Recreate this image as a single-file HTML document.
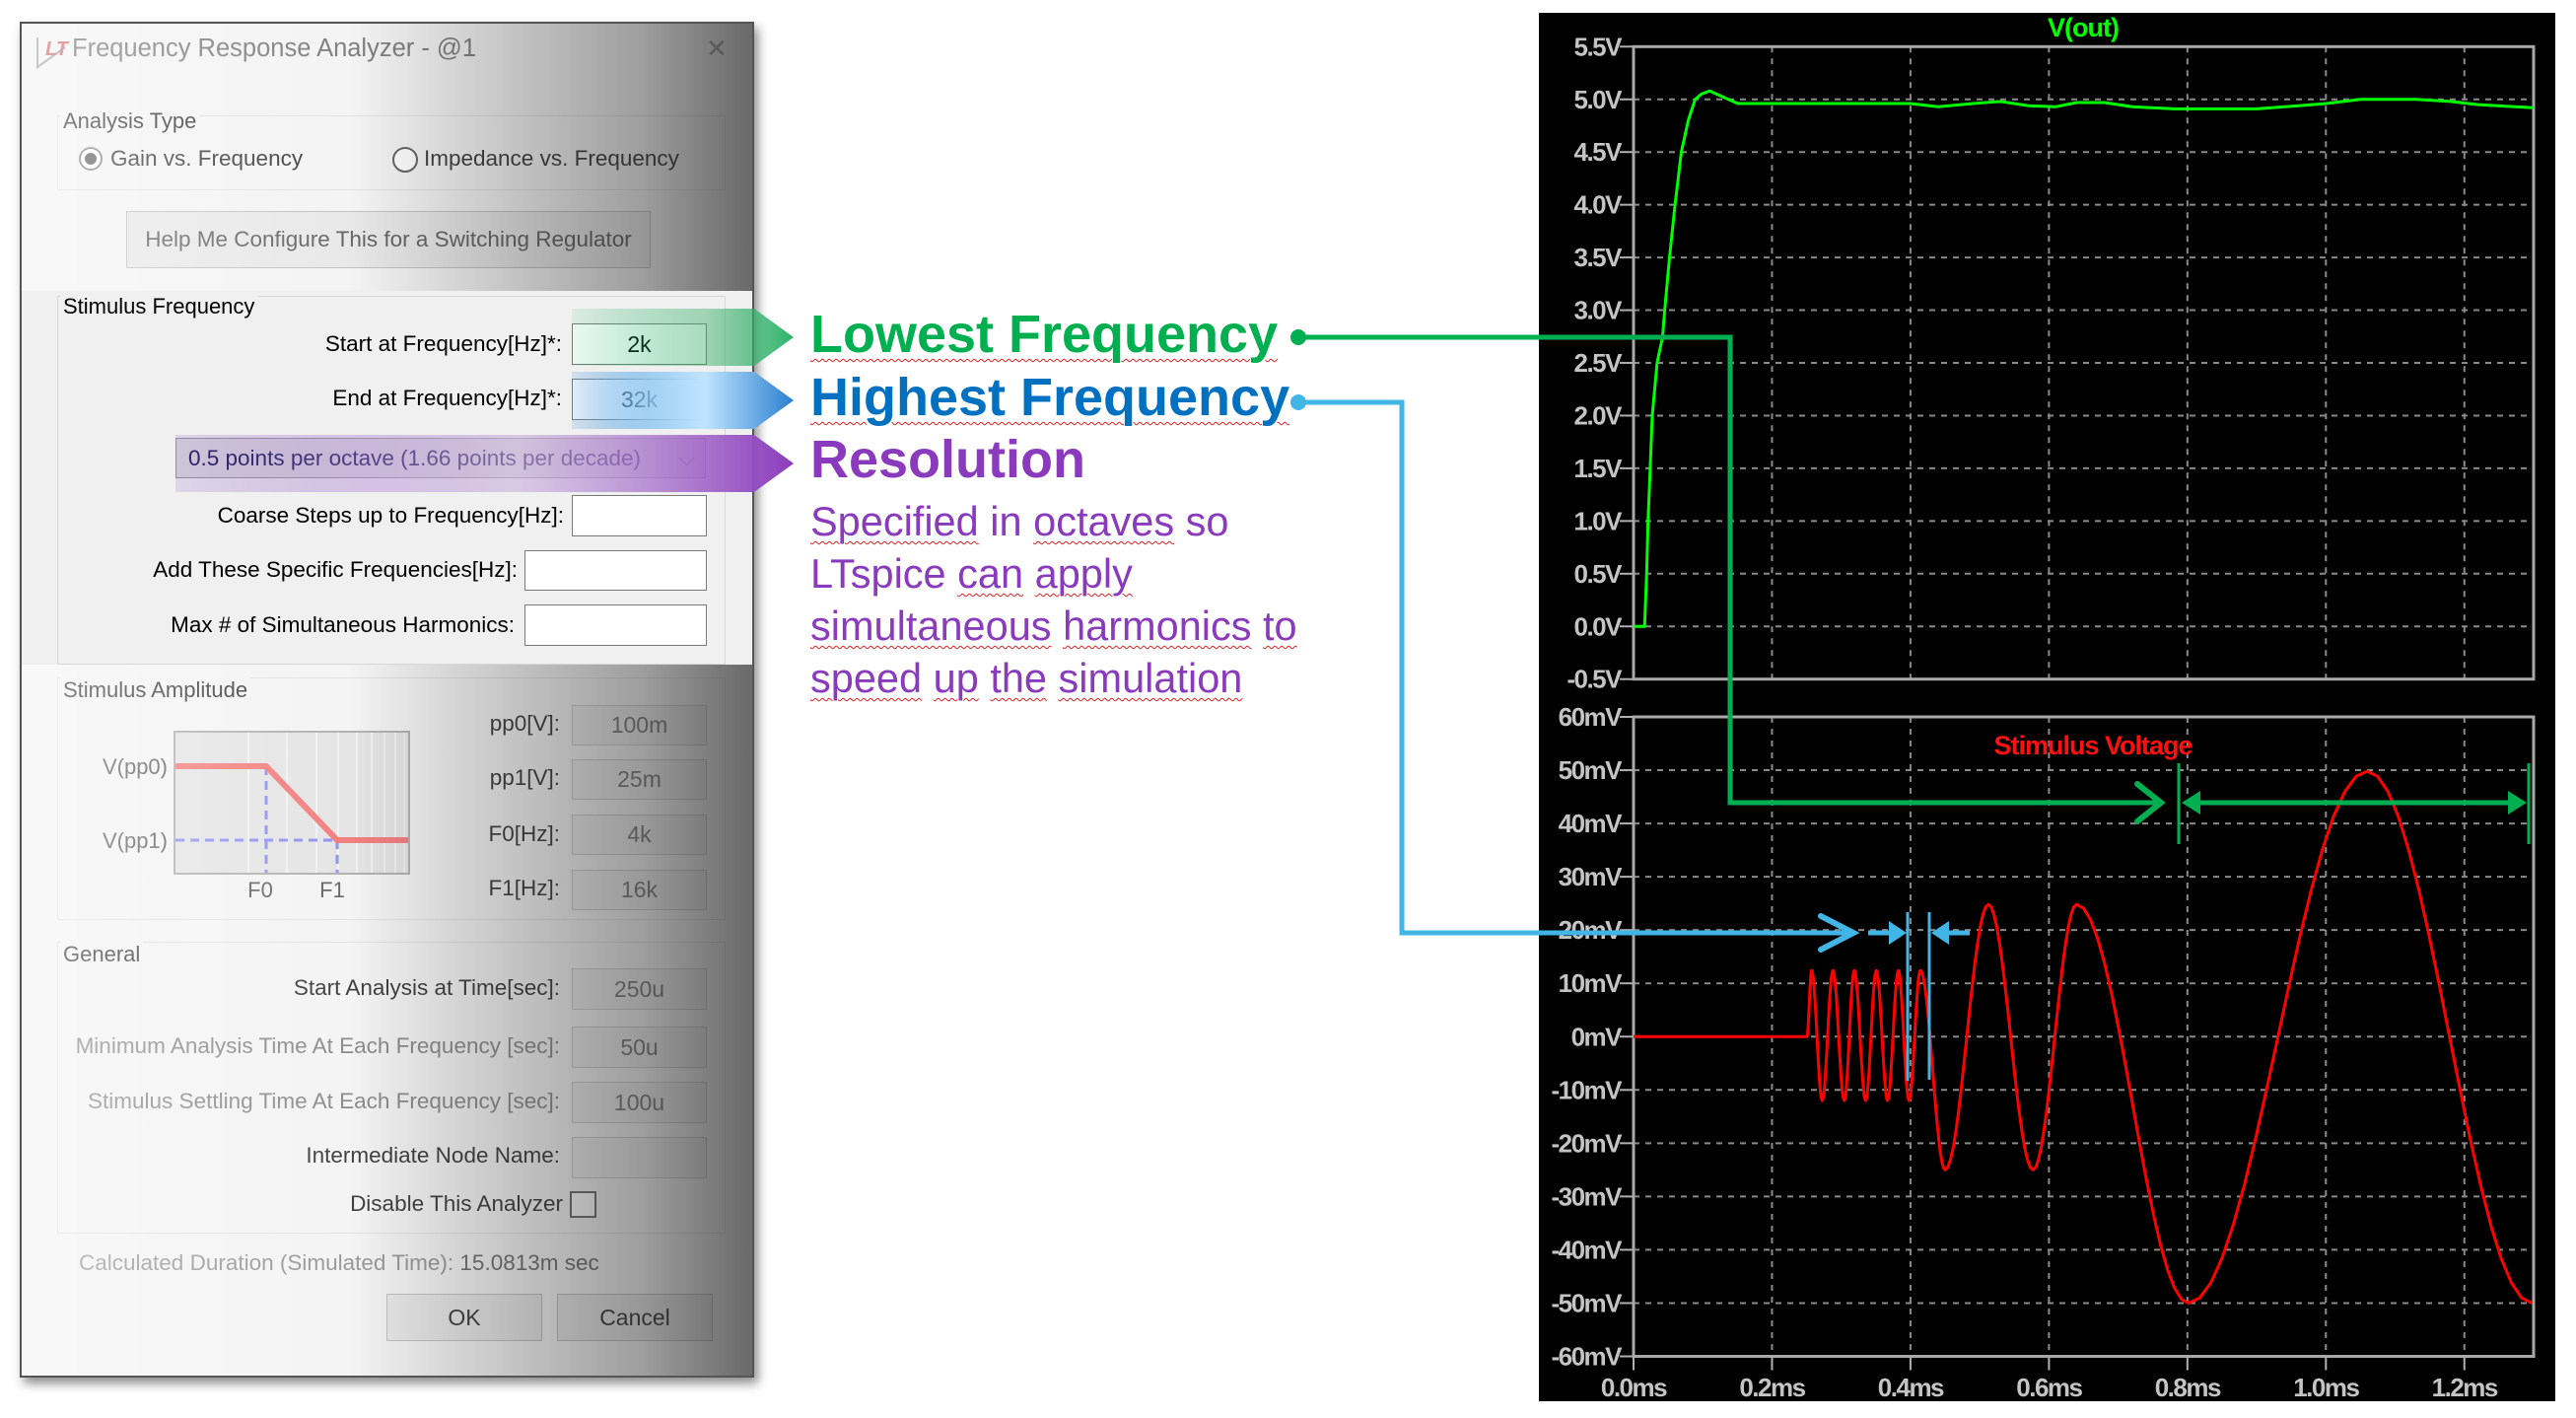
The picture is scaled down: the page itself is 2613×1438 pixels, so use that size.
<!DOCTYPE html>
<html><head><meta charset="utf-8"><style>
html,body{margin:0;padding:0;background:#fff;}
body{width:2613px;height:1438px;position:relative;overflow:hidden;font-family:"Liberation Sans",sans-serif;}
.abs{position:absolute;}
.dlg{left:20px;top:22px;width:745px;height:1375px;background:#f0f0f0;border:2px solid #555;box-shadow:4px 6px 10px rgba(0,0,0,.45);box-sizing:border-box;}
.lbl{position:absolute;font-size:22.5px;color:#000;white-space:nowrap;text-align:right;}
.box{position:absolute;background:#fff;border:1px solid #7a7a7a;box-sizing:border-box;font-size:23px;text-align:center;}
.grp{position:absolute;border:1px solid #d8d8d8;box-sizing:border-box;}
.gt{position:absolute;font-size:22px;color:#000;background:#f0f0f0;padding:0 3px;}
.btn{position:absolute;border:1px solid #adadad;background:#e1e1e1;box-sizing:border-box;font-size:23px;text-align:center;}
.dis{background:#e6e6e6;border-color:#bfbfbf;color:#555;}
.head{position:absolute;font-weight:bold;font-size:54px;white-space:nowrap;text-decoration:underline wavy #e02020 1px;text-underline-offset:6px;}
.para{position:absolute;font-size:41.5px;color:#8a3bbd;white-space:nowrap;left:822px;}
.u{text-decoration:underline wavy #e02020 1px;text-underline-offset:5px;}
</style></head><body>

<div class="abs dlg">
</div>
<div class="abs" style="left:36px;top:34px;width:36px;height:36px;">
 <svg width="36" height="36"><path d="M2 4 L2 34 L30 14" fill="none" stroke="#888" stroke-width="2"/><text x="10" y="22" font-size="20" font-weight="bold" fill="#c04040" font-style="italic">LT</text></svg>
</div>
<div class="abs" style="left:73px;top:35px;font-size:25.5px;color:#555;">Frequency Response Analyzer - @1</div>
<div class="abs" style="left:716px;top:34px;font-size:26px;color:#888;">✕</div>

<div class="grp" style="left:58px;top:117px;width:678px;height:76px;"></div>
<div class="gt" style="left:61px;top:110px;">Analysis Type</div>
<div class="abs" style="left:80px;top:149px;width:24px;height:24px;border:2px solid #666;border-radius:50%;box-sizing:border-box;background:#fff;"><div style="margin:4px;width:12px;height:12px;border-radius:50%;background:#333;"></div></div>
<div class="lbl" style="left:112px;top:148px;">Gain vs. Frequency</div>
<div class="abs" style="left:398px;top:149px;width:26px;height:26px;border:2px solid #333;border-radius:50%;box-sizing:border-box;background:#fff;"></div>
<div class="lbl" style="left:430px;top:148px;">Impedance vs. Frequency</div>
<div class="btn" style="left:128px;top:214px;width:532px;height:58px;line-height:56px;font-size:22.5px;color:#333;">Help Me Configure This for a Switching Regulator</div>

<div class="abs" style="left:22px;top:24px;width:741px;height:271px;background:linear-gradient(to right,rgba(255,255,255,.55),rgba(255,255,255,.25) 45%,rgba(90,90,90,.55) 85%,rgba(60,60,60,.75));"></div>

<div class="grp" style="left:58px;top:300px;width:678px;height:374px;"></div>
<div class="gt" style="left:61px;top:298px;">Stimulus Frequency</div>
<div class="lbl" style="right:2043px;top:336px;">Start at Frequency[Hz]*:</div>
<div class="box" style="left:580px;top:328px;width:137px;height:42px;line-height:40px;">2k</div>
<div class="lbl" style="right:2043px;top:391px;">End at Frequency[Hz]*:</div>
<div class="box" style="left:580px;top:384px;width:137px;height:42px;line-height:40px;color:#123;">32k</div>
<div class="box" style="left:178px;top:444px;width:538px;height:41px;line-height:39px;text-align:left;padding-left:12px;font-size:22.5px;color:#1a1a50;background:#ddd;border-color:#999;">0.5 points per octave (1.66 points per decade)<span style="position:absolute;right:10px;top:0;color:#666;">⌵</span></div>
<div class="lbl" style="right:2041px;top:510px;">Coarse Steps up to Frequency[Hz]:</div>
<div class="box" style="left:580px;top:502px;width:137px;height:42px;"></div>
<div class="lbl" style="right:2088px;top:565px;">Add These Specific Frequencies[Hz]:</div>
<div class="box" style="left:532px;top:558px;width:185px;height:41px;"></div>
<div class="lbl" style="right:2091px;top:621px;">Max # of Simultaneous Harmonics:</div>
<div class="box" style="left:532px;top:613px;width:185px;height:42px;"></div>

<div class="grp" style="left:58px;top:687px;width:678px;height:246px;"></div>
<div class="gt" style="left:61px;top:687px;">Stimulus Amplitude</div>
<svg class="abs" style="left:90px;top:735px;" width="340" height="185">
 <rect x="87" y="7" width="238" height="144" fill="#dcdcdc" stroke="#999" stroke-width="2"/>
 <g stroke="#f4f4f4" stroke-width="1.5"><line x1="162" y1="8" x2="162" y2="150"/><line x1="201" y1="8" x2="201" y2="150"/><line x1="231" y1="8" x2="231" y2="150"/><line x1="253" y1="8" x2="253" y2="150"/><line x1="272" y1="8" x2="272" y2="150"/><line x1="287" y1="8" x2="287" y2="150"/><line x1="300" y1="8" x2="300" y2="150"/><line x1="311" y1="8" x2="311" y2="150"/><line x1="320" y1="8" x2="320" y2="150"/></g>
 <g stroke="#6e6ef0" stroke-width="3" stroke-dasharray="9 6" fill="none"><line x1="180" y1="42" x2="180" y2="150"/><line x1="252" y1="117" x2="252" y2="150"/><line x1="88" y1="117" x2="252" y2="117"/></g>
 <polyline points="88,42 180,42 252,117 324,117" fill="none" stroke="#ee5555" stroke-width="6"/>
 <text x="80" y="50" font-size="22" text-anchor="end" fill="#333">V(pp0)</text>
 <text x="80" y="125" font-size="22" text-anchor="end" fill="#333">V(pp1)</text>
 <text x="174" y="175" font-size="22" text-anchor="middle" fill="#333">F0</text>
 <text x="247" y="175" font-size="22" text-anchor="middle" fill="#333">F1</text>
</svg>
<div class="lbl" style="right:2045px;top:721px;">pp0[V]:</div>
<div class="box dis" style="left:580px;top:715px;width:137px;height:41px;line-height:39px;">100m</div>
<div class="lbl" style="right:2045px;top:776px;">pp1[V]:</div>
<div class="box dis" style="left:580px;top:770px;width:137px;height:41px;line-height:39px;">25m</div>
<div class="lbl" style="right:2045px;top:833px;">F0[Hz]:</div>
<div class="box dis" style="left:580px;top:826px;width:137px;height:41px;line-height:39px;">4k</div>
<div class="lbl" style="right:2045px;top:888px;">F1[Hz]:</div>
<div class="box dis" style="left:580px;top:882px;width:137px;height:41px;line-height:39px;">16k</div>

<div class="grp" style="left:58px;top:955px;width:678px;height:296px;"></div>
<div class="gt" style="left:61px;top:955px;">General</div>
<div class="lbl" style="right:2045px;top:989px;">Start Analysis at Time[sec]:</div>
<div class="box dis" style="left:580px;top:982px;width:137px;height:42px;line-height:40px;">250u</div>
<div class="lbl" style="right:2045px;top:1048px;color:#666;">Minimum Analysis Time At Each Frequency [sec]:</div>
<div class="box dis" style="left:580px;top:1041px;width:137px;height:42px;line-height:40px;">50u</div>
<div class="lbl" style="right:2045px;top:1104px;color:#666;">Stimulus Settling Time At Each Frequency [sec]:</div>
<div class="box dis" style="left:580px;top:1097px;width:137px;height:42px;line-height:40px;">100u</div>
<div class="lbl" style="right:2045px;top:1159px;">Intermediate Node Name:</div>
<div class="box dis" style="left:580px;top:1153px;width:137px;height:42px;"></div>
<div class="lbl" style="right:2042px;top:1208px;">Disable This Analyzer</div>
<div class="abs" style="left:578px;top:1208px;width:27px;height:27px;border:2px solid #444;box-sizing:border-box;background:#fff;"></div>
<div class="lbl" style="left:80px;top:1268px;color:#444;"><span style="color:#777">Calculated Duration (Simulated Time):</span> 15.0813m sec</div>
<div class="btn" style="left:392px;top:1312px;width:158px;height:48px;line-height:46px;">OK</div>
<div class="btn" style="left:565px;top:1312px;width:158px;height:48px;line-height:46px;">Cancel</div>

<div class="abs" style="left:22px;top:674px;width:741px;height:721px;background:linear-gradient(to right,rgba(255,255,255,.55),rgba(255,255,255,.25) 45%,rgba(90,90,90,.55) 85%,rgba(60,60,60,.75));"></div>

<svg class="abs" style="left:0;top:0;" width="820" height="520">
 <defs>
  <linearGradient id="gg" x1="0" x2="1"><stop offset="0" stop-color="#00b050" stop-opacity=".08"/><stop offset=".6" stop-color="#40b070" stop-opacity=".45"/><stop offset="1" stop-color="#22b060" stop-opacity=".95"/></linearGradient>
  <linearGradient id="gb" x1="0" x2="1"><stop offset="0" stop-color="#3a8fd8" stop-opacity=".15"/><stop offset=".35" stop-color="#8cc6f0" stop-opacity=".8"/><stop offset=".6" stop-color="#c0e4ff"/><stop offset="1" stop-color="#2a7fd0"/></linearGradient>
  <linearGradient id="gp" x1="0" x2="1"><stop offset="0" stop-color="#8040c0" stop-opacity=".15"/><stop offset=".55" stop-color="#c8b0dc" stop-opacity=".6"/><stop offset="1" stop-color="#8a3bbd"/></linearGradient>
 </defs>
 <polygon points="580,313 765,313 805,342 765,371 580,371" fill="url(#gg)"/>
 <polygon points="580,377 765,377 805,406 765,435 580,435" fill="url(#gb)"/>
 <polygon points="178,441 765,441 805,470 765,499 178,499" fill="url(#gp)"/>
</svg>

<div class="head" style="left:822px;top:308px;color:#00b050;">Lowest Frequency</div>
<div class="head" style="left:822px;top:372px;color:#0070c0;">Highest Frequency</div>
<div class="head" style="left:822px;top:435px;color:#8a3bbd;text-decoration:none;">Resolution</div>
<div class="para" style="top:505px;"><span class="u">Specified</span> in <span class="u">octaves</span> so</div>
<div class="para" style="top:558px;">LTspice <span class="u">can</span> <span class="u">apply</span></div>
<div class="para" style="top:611px;"><span class="u">simultaneous</span> <span class="u">harmonics</span> <span class="u">to</span></div>
<div class="para" style="top:664px;"><span class="u">speed</span> <span class="u">up</span> <span class="u">the</span> <span class="u">simulation</span></div>

<svg id="chart" class="abs" style="left:0;top:0;" width="2613" height="1438"></svg>

<script>
const topTickVals = [5.5,5.0,4.5,4.0,3.5,3.0,2.5,2.0,1.5,1.0,0.5,0.0,-0.5];
const topTickLabels = ['5.5V','5.0V','4.5V','4.0V','3.5V','3.0V','2.5V','2.0V','1.5V','1.0V','0.5V','0.0V','-0.5V'];
const botTickVals = [60,50,40,30,20,10,0,-10,-20,-30,-40,-50,-60];
const botTickLabels = ['60mV','50mV','40mV','30mV','20mV','10mV','0mV','-10mV','-20mV','-30mV','-40mV','-50mV','-60mV'];
const timeTickVals = [0,0.2,0.4,0.6,0.8,1.0,1.2];
const timeTickLabels = ['0.0ms','0.2ms','0.4ms','0.6ms','0.8ms','1.0ms','1.2ms'];
const voutT = [0,0.016,0.019,0.021,0.024,0.027,0.034,0.042,0.045,0.052,0.060,0.069,0.079,0.089,0.098,0.110,0.137,0.151,0.40,0.44,0.49,0.53,0.57,0.61,0.64,0.68,0.72,0.78,0.90,0.96,1.00,1.05,1.13,1.18,1.22,1.30];
const voutV = [0,0,0.5,1.0,1.5,2.0,2.5,2.75,3.0,3.5,4.0,4.5,4.8,5.0,5.05,5.08,5.0,4.96,4.96,4.93,4.96,4.98,4.94,4.93,4.97,4.97,4.93,4.91,4.91,4.94,4.96,5.0,5.0,4.98,4.95,4.92];
const stimT = [0,0.2505,0.2572,0.2726,0.2880,0.3044,0.3189,0.3353,0.3507,0.3670,0.3825,0.3979,0.4143,0.4500,0.5125,0.5770,0.6397,0.8015,1.0597,1.2977];
const stimV = [0,0,12.4,-12,12.4,-12,12.4,-12,12.4,-12,12.4,-12,12.4,-25,24.8,-25,24.8,-50,49.8,-50];

const X0=1657, X1=2570, TMAX=1.3;
const x = t => X0 + t/TMAX*(X1-X0);
const TY0=47.3, TY1=688.7;
const yTop = v => TY0 + (5.5-v)/6*(TY1-TY0);
const BY0=727, BY1=1375.5;
const yBot = mv => BY0 + (60-mv)/120*(BY1-BY0);

const NS='http://www.w3.org/2000/svg';
const svg=document.getElementById('chart');
function mk(tag,attrs,parent){const e=document.createElementNS(NS,tag);for(const k in attrs)e.setAttribute(k,attrs[k]);(parent||svg).appendChild(e);return e;}

const bg=mk('rect',{x:1561,y:13,width:1031,height:1408,fill:'#000'});



function panel(yfn,vals,labels,Ya,Yb,name){
  const g=mk('g',{});
  
  
  vals.forEach((v,i)=>{
    const y=yfn(v);
    if(i>0&&i<vals.length-1){
      const gl=mk('line',{x1:X0,x2:X1,y1:y,y2:y,stroke:'#8a8a8a','stroke-width':2,'stroke-dasharray':'6 6'},g);
      
      
    }
    mk('line',{x1:X0-14,x2:X0,y1:y,y2:y,stroke:'#b0b0b0','stroke-width':2},g);
    const t=mk('text',{x:X0-13,y:y+9,'text-anchor':'end','font-size':26,'font-weight':'bold',fill:'#c4c4c4','letter-spacing':'-1.5','font-family':'Liberation Sans, sans-serif'},g);
    t.textContent=labels[i];
    
    
  });
  timeTickVals.forEach((tv,i)=>{
    if(i===0)return;
    const vl=mk('line',{x1:x(tv),x2:x(tv),y1:Ya,y2:Yb,stroke:'#8a8a8a','stroke-width':2,'stroke-dasharray':'6 6'},g);
    
    
  });
  mk('rect',{x:X0,y:Ya,width:X1-X0,height:Yb-Ya,fill:'none',stroke:'#a8a8a8','stroke-width':3},g);
}
panel(yTop,topTickVals,topTickLabels,TY0,TY1,'vout-pane');
panel(yBot,botTickVals,botTickLabels,BY0,BY1,'stimulus-pane');

timeTickVals.forEach((tv,i)=>{
  mk('line',{x1:x(tv),x2:x(tv),y1:BY1,y2:BY1+14,stroke:'#b0b0b0','stroke-width':2});
  const t=mk('text',{x:x(tv),y:1416,'text-anchor':'middle','font-size':26,'font-weight':'bold',fill:'#c4c4c4','letter-spacing':'-1.5','font-family':'Liberation Sans, sans-serif'});
  t.textContent=timeTickLabels[i];
  
  
});

const tt=mk('text',{x:2113,y:37,'text-anchor':'middle','font-size':27,'font-weight':'bold',fill:'#00ff00','letter-spacing':'-1','font-family':'Liberation Sans, sans-serif'});
tt.textContent='V(out)';


const st=mk('text',{x:2123,y:765,'text-anchor':'middle','font-size':27,'font-weight':'bold',fill:'#ff1010','letter-spacing':'-1','font-family':'Liberation Sans, sans-serif'});
st.textContent='Stimulus Voltage';



const vp=voutT.map((t,i)=>x(t).toFixed(1)+','+yTop(voutV[i]).toFixed(1)).join(' ');
const vl=mk('polyline',{points:vp,fill:'none',stroke:'#00ff00','stroke-width':3,'stroke-linejoin':'round'});



let sp=[];
for(let i=0;i<stimT.length-1;i++){
  const a=stimV[i],b=stimV[i+1],ta=stimT[i],tb=stimT[i+1];
  const n=16;
  for(let k=(i===0?0:1);k<=n;k++){
    const f=k/n;
    const v=a+(b-a)*(1-Math.cos(Math.PI*f))/2;
    sp.push(x(ta+(tb-ta)*f).toFixed(1)+','+yBot(v).toFixed(1));
  }
}
const sl=mk('polyline',{points:sp.join(' '),fill:'none',stroke:'#ff0000','stroke-width':3,'stroke-linejoin':'round'});



const G='#00b050', B='#41b6e6';
const ga=mk('g',{});


mk('circle',{cx:1317,cy:342,r:8,fill:G},ga);
mk('polyline',{points:'1317,342 1755,342 1755,814 2190,814',fill:'none',stroke:G,'stroke-width':5},ga);
mk('polyline',{points:'2168,795 2192,814 2168,833',fill:'none',stroke:G,'stroke-width':6,'stroke-linecap':'round'},ga);
mk('line',{x1:2210,x2:2210,y1:774,y2:856,stroke:G,'stroke-width':3},ga);
mk('line',{x1:2230,x2:2545,y1:814,y2:814,stroke:G,'stroke-width':5},ga);
mk('polygon',{points:'2213,814 2232,802 2232,826',fill:G},ga);
mk('polygon',{points:'2563,814 2544,802 2544,826',fill:G},ga);
mk('line',{x1:2565,x2:2565,y1:774,y2:856,stroke:G,'stroke-width':3},ga);

const ba=mk('g',{});


mk('circle',{cx:1317,cy:408,r:8,fill:B},ba);
mk('polyline',{points:'1317,408 1422,408 1422,946 1878,946',fill:'none',stroke:B,'stroke-width':5},ba);
mk('polyline',{points:'1847,929 1880,946 1847,963',fill:'none',stroke:B,'stroke-width':6,'stroke-linecap':'round'},ba);
mk('line',{x1:1895,x2:1918,y1:946,y2:946,stroke:B,'stroke-width':5},ba);
mk('polygon',{points:'1934,946 1916,934 1916,958',fill:B},ba);
mk('line',{x1:1935,x2:1935,y1:925,y2:1096,stroke:B,'stroke-width':3},ba);
mk('line',{x1:1957,x2:1957,y1:925,y2:1095,stroke:B,'stroke-width':3},ba);
mk('polygon',{points:'1959,946 1977,934 1977,958',fill:B},ba);
mk('line',{x1:1975,x2:1998,y1:946,y2:946,stroke:B,'stroke-width':5},ba);
</script>
</body></html>
